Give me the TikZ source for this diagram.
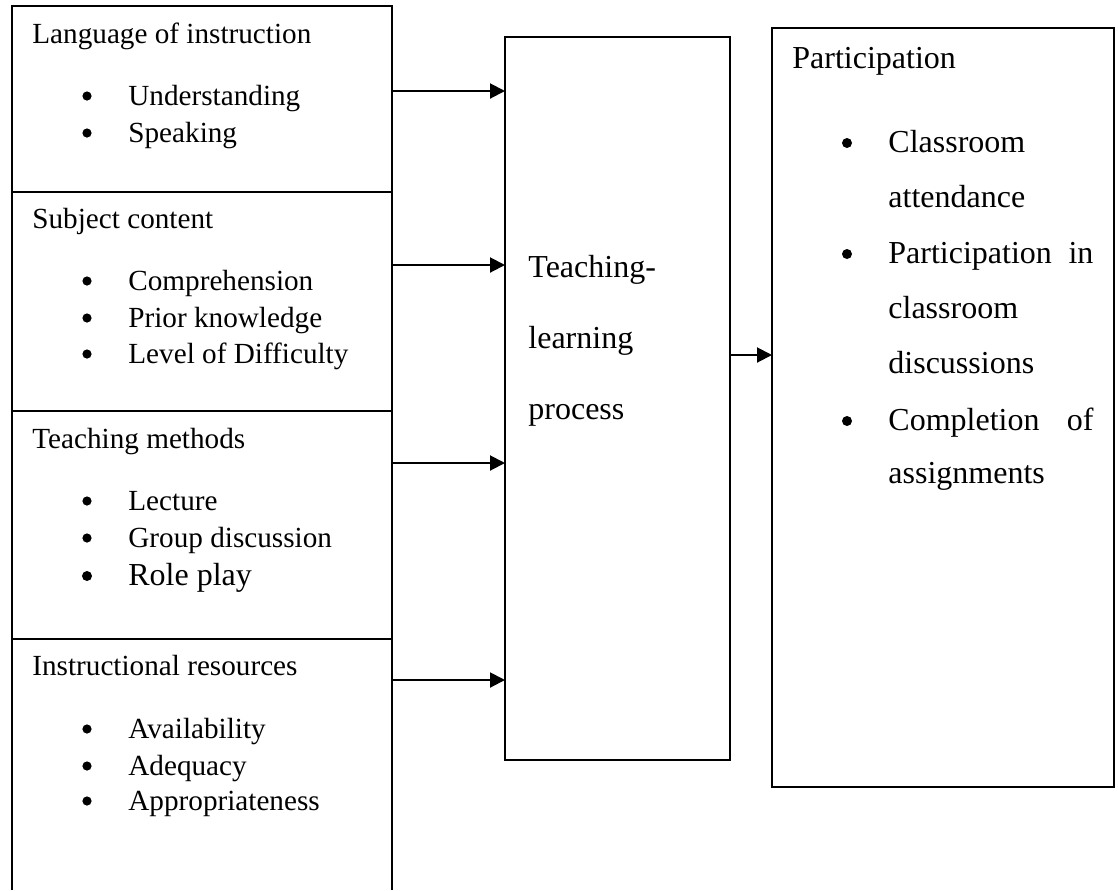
\documentclass[tikz,border=0pt]{standalone}
\usepackage{fontspec}
\setmainfont{Liberation Serif}
\usetikzlibrary{arrows.meta}

\tikzset{
  box/.style={draw,line width=1pt,inner sep=0pt,outer sep=0pt,anchor=north west},
  arr/.style={line width=1pt,-{Triangle[length=7.5pt,width=7.5pt]}},
  txt/.style={inner sep=0pt,anchor=base west,font=\fontsize{14.6}{17}\selectfont},
  bigtxt/.style={inner sep=0pt,anchor=base west,font=\fontsize{16}{19}\selectfont},
  dot/.style={circle,fill,inner sep=0pt,minimum size=4.6pt},
  bigdot/.style={circle,fill,inner sep=0pt,minimum size=5pt},
}

\begin{document}
\begin{tikzpicture}[x=0.5pt,y=-0.5pt]

\useasboundingbox (0,0) rectangle (1118,890) ;

% left column
\node[box,minimum width=190pt,minimum height=93pt] (lang) at (12,6) {} ;
\node[box,minimum width=190pt,minimum height=109.5pt] (subj) at (12,192) {} ;
\node[box,minimum width=190pt,minimum height=114pt] (meth) at (12,411) {} ;
\node[box,draw=none,minimum width=190pt,minimum height=125.5pt] (res) at (12,639) {} ;
\draw[line width=1pt] (res.south west) -- (res.north west) -- (res.north east) -- (res.south east) ;

% middle and right
\node[box,minimum width=112.5pt,minimum height=361.5pt] (tlp) at (505,37) {} ;
\node[box,minimum width=171pt,minimum height=379.5pt] (part) at (772,28) {} ;

% texts, left
\node[txt] (langhd) at (32,43) {Language of instruction} ;
\node[dot] at (87,96) {} ;
\node[txt] (lang1) at (128,105) {Understanding} ;
\node[dot] at (87,133) {} ;
\node[txt] (lang2) at (128,142) {Speaking} ;

\node[txt] (subjhd) at (32,228) {Subject content} ;
\node[dot] at (87,281) {} ;
\node[txt] (subj1) at (128,290) {Comprehension} ;
\node[dot] at (87,318) {} ;
\node[txt] (subj2) at (128,327) {Prior knowledge} ;
\node[dot] at (87,354) {} ;
\node[txt] (subj3) at (128,363) {Level of Difficulty} ;

\node[txt] (methhd) at (32,448) {Teaching methods} ;
\node[dot] at (87,501) {} ;
\node[txt] (meth1) at (128,510) {Lecture} ;
\node[dot] at (87,538) {} ;
\node[txt] (meth2) at (128,547) {Group discussion} ;
\node[bigdot] at (87,576) {} ;
\node[bigtxt] (meth3) at (128,585) {Role play} ;

\node[txt] (reshd) at (32,675) {Instructional resources} ;
\node[dot] at (87,729) {} ;
\node[txt] (res1) at (128,738) {Availability} ;
\node[dot] at (87,766) {} ;
\node[txt] (res2) at (128,775) {Adequacy} ;
\node[dot] at (87,801) {} ;
\node[txt] (res3) at (128,810) {Appropriateness} ;

% texts, middle
\node[bigtxt] (tlp1) at (528,277) {Teaching-} ;
\node[bigtxt] (tlp2) at (528,348) {learning} ;
\node[bigtxt] (tlp3) at (528,419) {process} ;

% texts, right
\node[bigtxt] (parthd) at (792,68) {Participation} ;
\node[bigdot] at (847,143) {} ;
\node[bigtxt] (part1) at (888,152) {Classroom} ;
\node[bigtxt] (part1b) at (888,207) {attendance} ;
\node[bigdot] at (847,254) {} ;
\node[bigtxt] (part2) at (888,263) {\hbox to 102.5pt{Participation\hfill in}} ;
\node[bigtxt] (part2b) at (888,318) {classroom} ;
\node[bigtxt] (part2c) at (888,373) {discussions} ;
\node[bigdot] at (847,421) {} ;
\node[bigtxt] (part3) at (888,430) {\hbox to 102.5pt{Completion\hfill of}} ;
\node[bigtxt] (part3b) at (888,483) {assignments} ;

% arrows
\coordinate (a1) at (392,91) ;
\coordinate (a2) at (392,265) ;
\coordinate (a3) at (392,463) ;
\coordinate (a4) at (392,680) ;
\coordinate (a5) at (730,355) ;

\draw[arr] (a1) -- (a1 -| tlp.west) ;
\draw[arr] (a2) -- (a2 -| tlp.west) ;
\draw[arr] (a3) -- (a3 -| tlp.west) ;
\draw[arr] (a4) -- (a4 -| tlp.west) ;
\draw[arr] (a5) -- (a5 -| part.west) ;

\end{tikzpicture}
\end{document}
